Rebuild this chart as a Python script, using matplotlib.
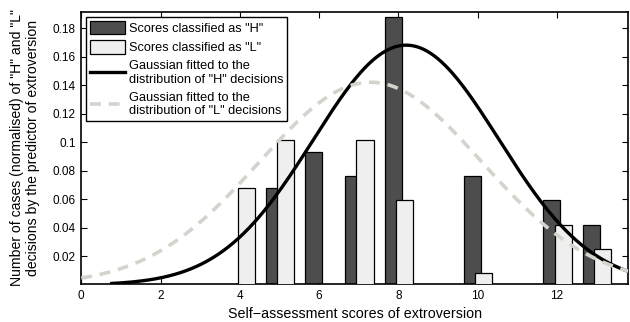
import numpy as np
import matplotlib.pyplot as plt

plt.rcParams['font.family'] = ['Liberation Sans', 'DejaVu Sans']

# scores of extroversion
scores_h = [5, 6, 7, 8, 10, 12, 13]
vals_h = [0.0678, 0.0934, 0.0765, 0.1876, 0.0765, 0.0593, 0.0422]
scores_l = [4, 5, 7, 8, 10, 12, 13]
vals_l = [0.0678, 0.1017, 0.1017, 0.0593, 0.0085, 0.0422, 0.0254]

# fitted gaussians (mean, sigma, peak height)
mu_h, sd_h, peak_h = 8.2, 2.34, 0.168
mu_l, sd_l, peak_l = 7.3, 2.81, 0.142

fig = plt.figure(figsize=(6.3, 3.22), dpi=100)
ax = fig.add_axes([0.129, 0.118, 0.868, 0.846])

w = 0.43
b1 = ax.bar(np.array(scores_h) - 0.13, vals_h, width=w, color='#4d4d4d',
            edgecolor='black', linewidth=0.9, zorder=2)
b2 = ax.bar(np.array(scores_l) + 0.16, vals_l, width=w, color='#efefef',
            edgecolor='black', linewidth=0.9, zorder=3)

xh = np.linspace(0.77, 14, 300)
l1, = ax.plot(xh, peak_h * np.exp(-(xh - mu_h) ** 2 / (2 * sd_h ** 2)), color='black',
              lw=2.4, zorder=4)
xl = np.linspace(0, 14, 300)
l2, = ax.plot(xl, peak_l * np.exp(-(xl - mu_l) ** 2 / (2 * sd_l ** 2)), color='#d6d3cc',
              lw=2.6, dashes=(3, 2.2), zorder=4)

ax.set_xlim(0, 13.8)
ax.set_ylim(0.0007, 0.1915)
ax.set_xticks([0, 2, 4, 6, 8, 10, 12])
ax.set_yticks([0.02, 0.04, 0.06, 0.08, 0.1, 0.12, 0.14, 0.16, 0.18])
ax.set_yticklabels(['0.02', '0.04', '0.06', '0.08', '0.1', '0.12', '0.14', '0.16', '0.18'])
ax.tick_params(direction='in', top=True, right=True, length=4, width=0.8, labelsize=8.5, pad=4)
for s in ax.spines.values():
    s.set_linewidth(1.2)

ax.set_xlabel('Self\u2212assessment scores of extroversion', fontsize=10.3, labelpad=4)
ax.set_ylabel('Number of cases (normalised) of "H" and "L"\ndecisions by the predictor of extroversion',
              fontsize=10.1, labelpad=9)

labels = ['Scores classified as "H"', 'Scores classified as "L"',
          'Gaussian fitted to the\ndistribution of "H" decisions',
          'Gaussian fitted to the\ndistribution of "L" decisions']
leg = ax.legend([b1, b2, l1, l2], labels, loc='upper left', fontsize=9.2, frameon=True,
                fancybox=False, edgecolor='black', framealpha=1, borderpad=0.3,
                labelspacing=0.45, handlelength=2.7, handleheight=1.25, handletextpad=0.3,
                borderaxespad=0.4)
leg.get_frame().set_linewidth(1.0)

fig.savefig('out.png', dpi=100)
